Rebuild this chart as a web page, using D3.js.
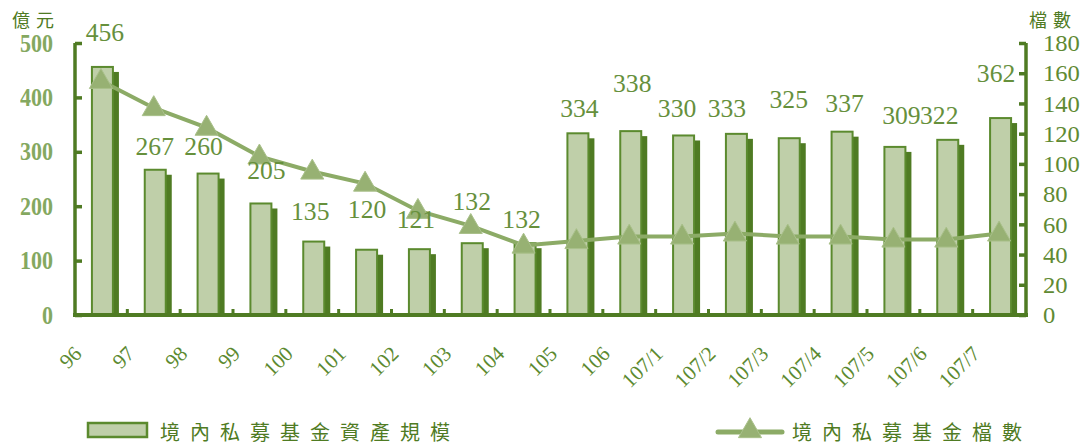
<!DOCTYPE html>
<html><head><meta charset="utf-8">
<script src="https://cdn.jsdelivr.net/npm/d3@7"></script>
<style>
html,body{margin:0;padding:0;background:#fff;}
svg{display:block;}
</style></head>
<body>
<svg id="chart" width="1087" height="447"></svg>
<script>
const categories = ["96","97","98","99","100","101","102","103","104","105","106","107/1","107/2","107/3","107/4","107/5","107/6","107/7"];
const assetValues = [456,267,260,205,135,120,121,132,132,334,338,330,333,325,337,309,322,362];
const fundCounts = [155,137,124,105,95,87,69,59,46,49,52,52,54,52,52,50,50,54];
const leftTicks = [0,100,200,300,400,500];
const rightTicks = [0,20,40,60,80,100,120,140,160,180];
const barSeriesName = "境內私募基金資產規模";
const lineSeriesName = "境內私募基金檔數";
const leftUnit = "億元";
const rightUnit = "檔數";
// label nudges (pixels) relative to bar top / band centre
const labelDx = [4,1,-3,7,-2,2,-2,1,-2,3,3,-5,-8,1,4,8,-7,-3];
const labelDy = [26,15,19,24,22,32,21,33,15,16,39,18,17,30,20,23,16,36];

const C = {
  axis:"#4f7b23", barFill:"#bfcfa9", barStroke:"#5b8a2e", shadow:"#4f7b23",
  line:"#8cab66", marker:"#97b173", label:"#66903c", tickL:"#6f9a45", tickR:"#5f8a33", xlab:"#5c8a30", title:"#4f7b23"
};
const serif = "'Liberation Serif','DejaVu Serif',serif";
const cjk = "'Noto Sans CJK TC','Noto Sans CJK SC',sans-serif";

const svg = d3.select("#chart");
const x = d3.scaleBand().domain(categories).range([74.5,1025.5]).padding(0);
const yL = d3.scaleLinear().domain([0,500]).range([315,43]);
const yR = d3.scaleLinear().domain([0,180]).range([315,43]);
const cx = d => x(d) + x.bandwidth()/2;
const barW = 21;

// bars: shadow then face
const g = svg.append("g");
g.selectAll("rect.shadow").data(categories).join("rect")
  .attr("class","shadow")
  .attr("x",(d,i)=>cx(d)-9+6)
  .attr("y",(d,i)=>yL(assetValues[i])+5)
  .attr("width",barW)
  .attr("height",(d,i)=>yL(0)-yL(assetValues[i])-5)
  .attr("fill",C.shadow);
g.selectAll("rect.face").data(categories).join("rect")
  .attr("class","face")
  .attr("x",(d,i)=>cx(d)-9)
  .attr("y",(d,i)=>yL(assetValues[i]))
  .attr("width",barW)
  .attr("height",(d,i)=>yL(0)-yL(assetValues[i]))
  .attr("fill",C.barFill).attr("stroke",C.barStroke).attr("stroke-width",2);

// left axis
const axL = svg.append("g").attr("transform","translate(75,0)")
  .call(d3.axisLeft(yL).tickValues(leftTicks).tickSize(-7).tickPadding(22));
axL.select(".domain").attr("stroke",C.axis).attr("stroke-width",3.5).attr("d","M0,315V43");
axL.selectAll(".tick line").attr("stroke",C.axis).attr("stroke-width",3.5);
axL.selectAll(".tick text").attr("fill",C.tickL).attr("font-family",serif).attr("font-size",25)
  .attr("font-weight","bold").attr("opacity",0.85)
  .attr("textLength",d=>String(d).length*11).attr("lengthAdjust","spacingAndGlyphs");

// right axis
const axR = svg.append("g").attr("transform","translate(1026,0)")
  .call(d3.axisRight(yR).tickValues(rightTicks).tickSize(-7).tickPadding(17));
axR.select(".domain").attr("stroke",C.axis).attr("stroke-width",3.5).attr("d","M0,315V43");
axR.selectAll(".tick line").attr("stroke",C.axis).attr("stroke-width",3.5);
axR.selectAll(".tick text").attr("fill",C.tickR).attr("font-family",serif).attr("font-size",24)
  .attr("textLength",d=>String(d).length*12.3).attr("lengthAdjust","spacingAndGlyphs");

// bottom axis
svg.append("line").attr("x1",73).attr("x2",1028).attr("y1",315).attr("y2",315)
  .attr("stroke",C.axis).attr("stroke-width",4);
svg.selectAll("rect.minor").data(categories.slice(1)).join("rect")
  .attr("class","minor")
  .attr("x",d=>x(d)-1.5).attr("y",309).attr("width",3).attr("height",6)
  .attr("fill",C.axis);

// x labels
svg.append("g").selectAll("text").data(categories).join("text")
  .attr("transform",d=>`translate(${cx(d)-18},355) rotate(-45)`)
  .attr("text-anchor","end")
  .attr("font-family",serif).attr("font-size",21).attr("fill",C.xlab)
  .text(d=>d);

// line
const line = d3.line().x((d,i)=>cx(categories[i])).y(d=>yR(d));
svg.append("path").datum(fundCounts).attr("d",line)
  .attr("fill","none").attr("stroke",C.line).attr("stroke-width",4);
const tri = d3.symbol().type(d3.symbolTriangle).size(230);
svg.selectAll("path.mk").data(fundCounts).join("path")
  .attr("class","mk")
  .attr("transform",(d,i)=>`translate(${cx(categories[i])},${yR(d)+1})`)
  .attr("d",tri).attr("fill",C.marker).attr("stroke","#a9c08a").attr("stroke-width",1);

// data labels
svg.append("g").selectAll("text").data(assetValues).join("text")
  .attr("x",(d,i)=>cx(categories[i])+labelDx[i])
  .attr("y",(d,i)=>yL(d)-labelDy[i])
  .attr("text-anchor","middle")
  .attr("font-family",serif).attr("font-size",25).attr("fill",C.label)
  .attr("textLength",d=>String(d).length*12.8).attr("lengthAdjust","spacingAndGlyphs")
  .text(d=>d);

// unit titles
svg.append("text").attr("x",12).attr("y",27).attr("font-family",cjk).attr("font-size",18)
  .attr("letter-spacing",6).attr("fill",C.title).text(leftUnit);
svg.append("text").attr("x",1029).attr("y",27).attr("font-family",cjk).attr("font-size",18)
  .attr("letter-spacing",6).attr("fill",C.title).text(rightUnit);

// legend
svg.append("rect").attr("x",88).attr("y",423).attr("width",59).attr("height",14)
  .attr("fill",C.barFill).attr("stroke",C.barStroke).attr("stroke-width",2.5);
svg.append("text").attr("x",160).attr("y",440).attr("font-family",cjk).attr("font-size",20)
  .attr("letter-spacing",10).attr("fill",C.title).text(barSeriesName);
svg.append("line").attr("x1",718).attr("x2",782).attr("y1",432).attr("y2",432)
  .attr("stroke",C.line).attr("stroke-width",5).attr("stroke-linecap","round");
svg.append("path").attr("transform","translate(750,431)").attr("d",tri)
  .attr("fill",C.marker).attr("stroke","#a9c08a").attr("stroke-width",1);
svg.append("text").attr("x",792).attr("y",440).attr("font-family",cjk).attr("font-size",20)
  .attr("letter-spacing",10).attr("fill",C.title).text(lineSeriesName);
</script>
</body></html>
